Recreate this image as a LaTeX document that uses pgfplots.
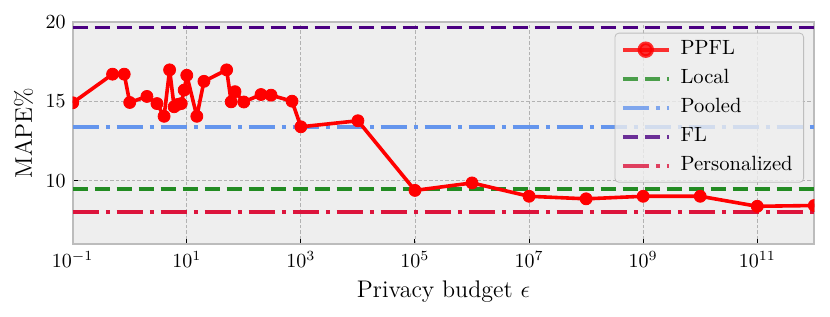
\documentclass[border=0pt]{standalone}
\usepackage{pgfplots}
\pgfplotsset{compat=1.18}
\definecolor{bg}{HTML}{EEEEEE}
\definecolor{edge}{HTML}{BCBCBC}
\definecolor{gridc}{HTML}{B2B2B2}
\definecolor{ppfl}{HTML}{FF0000}
\definecolor{localc}{HTML}{228B22}
\definecolor{pooled}{HTML}{6495ED}
\definecolor{flc}{HTML}{4B0082}
\definecolor{pers}{HTML}{DC143C}
\begin{document}
\begin{tikzpicture}
\begin{axis}[
  scale only axis, width=370.8pt, height=111.3pt,
  xmode=log, log basis x=10,
  xmin=0.1, xmax=1e12, ymin=6, ymax=20,
  xtick={1e-1,1e1,1e3,1e5,1e7,1e9,1e11},
  ytick={10,15,20},
  xminorticks=false, yminorticks=false,
  grid=major,
  major grid style={gridc, line width=0.4pt, dash pattern=on 1.7pt off 1pt},
  axis line style={edge, line width=1pt},
  tick align=inside, tick pos=left,
  major tick length=2.5pt,
  tick style={black, line width=0.5pt},
  axis background/.style={fill=bg},
  tick label style={font=\fontsize{10}{12}\selectfont},
  xlabel={Privacy budget $\epsilon$},
  ylabel={MAPE\%},
  every axis x label/.style={at={(axis description cs:0.5,0)}, yshift=-23.5pt, anchor=center, font=\fontsize{12}{14.4}\selectfont},
  every axis y label/.style={at={(axis description cs:0,0.5)}, xshift=-24.6pt, rotate=90, anchor=center, font=\fontsize{12}{14.4}\selectfont},
  clip marker paths=true,
  legend cell align=left,
  legend image code/.code={\draw[mark repeat=2,mark phase=2] plot coordinates {(0pt,0pt) (11.5pt,0pt) (23pt,0pt)}; \path (25.5pt,0pt);},
  legend style={at={(axis description cs:1,1)}, anchor=north east, xshift=-5.15pt, yshift=-5.5pt,
    draw=gridc, draw opacity=0.8, fill=bg, fill opacity=0.8, text opacity=1,
    rounded corners=2pt, font=\fontsize{10.3}{12}\selectfont,
    inner xsep=3pt, inner ysep=1.8pt, row sep=1.5pt,
    nodes={inner xsep=2.5pt, inner ysep=2pt, text height=7pt, text depth=2pt}},
]
\addlegendimage{ppfl, line width=1.8pt, mark=*, mark size=3.2pt, mark options={solid, fill=ppfl}}
\addlegendentry{PPFL}
\addplot[localc, line width=1.8pt, dash pattern=on 7.7pt off 3.3pt] coordinates {(0.1,9.48) (1e12,9.48)};
\addlegendentry{Local}
\addplot[pooled, line width=1.8pt, dash pattern=on 13.3pt off 3.3pt on 2.1pt off 3.3pt] coordinates {(0.1,13.36) (1e12,13.36)};
\addlegendentry{Pooled}
\addplot[flc, line width=1.8pt, dash pattern=on 7.7pt off 3.3pt] coordinates {(0.1,19.64) (1e12,19.64)};
\addlegendentry{FL}
\addplot[pers, line width=1.8pt, dash pattern=on 13.3pt off 3.3pt on 2.1pt off 3.3pt] coordinates {(0.1,8.04) (1e12,8.04)};
\addlegendentry{Personalized}
\addplot[ppfl, line width=1.8pt, line join=round, mark=*, mark size=3pt, mark options={solid, fill=ppfl, line width=0.4pt}, forget plot] coordinates {
(0.1,14.9) (0.5,16.7) (0.8,16.7) (1,14.92) (2,15.3) (3,14.85) (4,14.05) (5,16.97)
(6,14.65) (7,14.8) (8,14.85) (9,15.7) (10,16.63) (15,14.05) (20,16.25) (50,16.97)
(60,14.96) (70,15.6) (100,14.95) (200,15.42) (300,15.38) (700,15.0) (1000,13.39)
(1e4,13.77) (1e5,9.39) (1e6,9.86) (1e7,9.02) (1e8,8.86) (1e9,9.02) (1e10,9.02)
(1e11,8.39) (1e12,8.44)};
\end{axis}
\pgfresetboundingbox
\useasboundingbox ([shift={(-36.35pt,-35.85pt)}]current axis.south west) rectangle ([shift={(7.85pt,10.85pt)}]current axis.north east);
\end{tikzpicture}
\end{document}
